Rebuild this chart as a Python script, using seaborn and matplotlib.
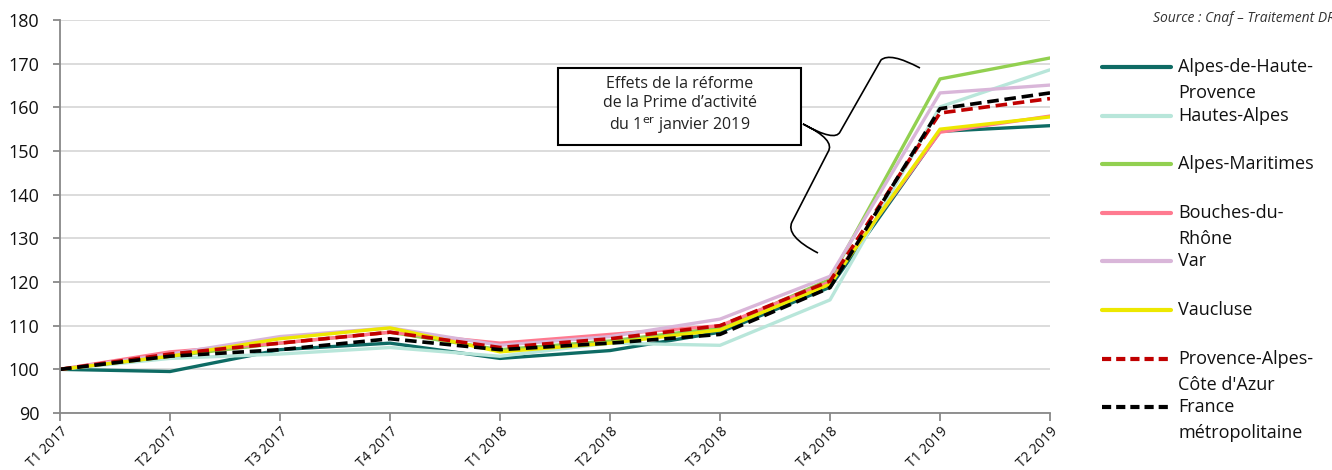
import matplotlib.pyplot as plt
import numpy as np
import pandas as pd
import seaborn as sns
from matplotlib.lines import Line2D
from matplotlib.patches import Rectangle, PathPatch
from matplotlib.path import Path

QUARTERS = ["T1 2017", "T2 2017", "T3 2017", "T4 2017", "T1 2018",
            "T2 2018", "T3 2018", "T4 2018", "T1 2019", "T2 2019"]

alpes_haute_provence = [100, 99.5, 104.5, 106.0, 102.5, 104.3, 108.5, 118.8, 154.5, 155.8]
hautes_alpes = [100, 102.5, 103.5, 105.0, 103.0, 106.0, 105.5, 115.9, 160.1, 168.6]
alpes_maritimes = [100, 103.0, 106.0, 108.5, 104.5, 106.5, 109.5, 120.6, 166.5, 171.3]
bouches_du_rhone = [100, 104.0, 106.0, 108.5, 106.0, 108.0, 110.0, 120.0, 154.3, 158.0]
var = [100, 103.5, 107.5, 109.5, 105.5, 107.5, 111.5, 121.3, 163.3, 165.1]
vaucluse = [100, 103.0, 107.0, 109.5, 104.0, 106.0, 109.0, 119.5, 155.0, 157.8]
paca = [100, 103.5, 106.0, 108.5, 105.0, 107.0, 110.0, 120.2, 158.7, 162.0]
france = [100, 103.0, 104.5, 107.0, 104.5, 106.0, 108.0, 118.7, 159.7, 163.3]

SERIES = [
    ("Alpes-de-Haute-\nProvence", alpes_haute_provence, "#0E6B64", "-"),
    ("Hautes-Alpes", hautes_alpes, "#B8E6DA", "-"),
    ("Alpes-Maritimes", alpes_maritimes, "#92D050", "-"),
    ("Bouches-du-\nRhône", bouches_du_rhone, "#FF7A90", "-"),
    ("Var", var, "#D9B6D9", "-"),
    ("Vaucluse", vaucluse, "#EDE800", "-"),
    ("Provence-Alpes-\nCôte d'Azur", paca, "#C00000", "--"),
    ("France\nmétropolitaine", france, "#000000", "--"),
]

sns.set_theme(style="white")
plt.rcParams["font.family"] = ["Open Sans", "DejaVu Sans"]

W, H = 1332, 470
fig = plt.figure(figsize=(W / 100, H / 100), dpi=100)
ax = fig.add_axes([60 / W, 1 - 413 / H, 990 / W, 393 / H])


def fx(px):
    return px / W


def fy(py):
    return 1 - py / H


for label, vals, color, ls in SERIES:
    df = pd.DataFrame({"quarter": QUARTERS, "value": vals})
    sns.lineplot(data=df, x="quarter", y="value", ax=ax, color=color,
                 linewidth=2.4, sort=False)
    ln = ax.lines[-1]
    if ls == "--":
        ln.set_dashes([3.2, 1.6])
        ln.set_linewidth(2.6)

ax.set_xlim(0, len(QUARTERS) - 1)
ax.set_ylim(90, 180)
ax.set_yticks(np.arange(90, 181, 10))
ax.yaxis.grid(True, color="#d9d9d9", linewidth=1.3)
ax.xaxis.grid(False)
ax.set_xlabel("")
ax.set_ylabel("")
for side in ["top", "right"]:
    ax.spines[side].set_visible(False)
for side in ["left", "bottom"]:
    ax.spines[side].set_color("#888888")
    ax.spines[side].set_linewidth(1.3)
ax.tick_params(axis="y", length=5, width=1.3, color="#888888", left=True,
               labelsize=13, pad=10, labelcolor="#111111")
ax.tick_params(axis="x", length=6, width=1.3, color="#888888", direction="out",
               labelsize=10, bottom=True, pad=2, labelcolor="#111111")
ax.set_xticks(range(len(QUARTERS)))
ax.set_xticklabels(QUARTERS, rotation=45, ha="right", rotation_mode="anchor")

# annotation box
fig.add_artist(Rectangle((fx(558), fy(145)), 243 / W, 77 / H, transform=fig.transFigure,
                         facecolor="white", edgecolor="black", linewidth=1.5, zorder=5))
fig.text(fx(680), fy(106),
         "Effets de la réforme\nde la Prime d’activité\ndu 1$^{\\mathrm{er}}$ janvier 2019",
         ha="center", va="center", fontsize=11.5, color="#222222", linespacing=1.25, zorder=6)

# curly brace
pts = [(920, 68), (890, 52), (881, 60), (840, 132), (835, 142), (803, 124),
       (836, 140), (828, 152), (792, 222), (785, 236), (818, 253)]
codes = [Path.MOVETO, Path.CURVE3, Path.CURVE3, Path.LINETO, Path.CURVE3, Path.CURVE3,
         Path.CURVE3, Path.CURVE3, Path.LINETO, Path.CURVE3, Path.CURVE3]
brace = Path([(fx(x), fy(y)) for x, y in pts], codes)
fig.add_artist(PathPatch(brace, transform=fig.transFigure, facecolor="none",
                         edgecolor="black", linewidth=1.2, zorder=6))

# source
fig.text(fx(1153), fy(18), "Source : Cnaf – Traitement DREETS", fontsize=10,
         style="italic", color="#333333", va="center", ha="left")

# legend
y0, step = 67, 48.6
for i, (label, vals, color, ls) in enumerate(SERIES):
    y = y0 + i * step
    handle = Line2D([fx(1102), fx(1171)], [fy(y), fy(y)], color=color, linewidth=3,
                    transform=fig.transFigure)
    if ls == "--":
        handle.set_dashes([2.2, 1.2])
    fig.add_artist(handle)
    fig.text(fx(1178), fy(y), label.split("\n")[0], fontsize=13, va="center", ha="left",
             color="#111111")
    if "\n" in label:
        fig.text(fx(1178), fy(y + 26), label.split("\n")[1], fontsize=13, va="center",
                 ha="left", color="#111111")

fig.savefig("out.png", dpi=100)
